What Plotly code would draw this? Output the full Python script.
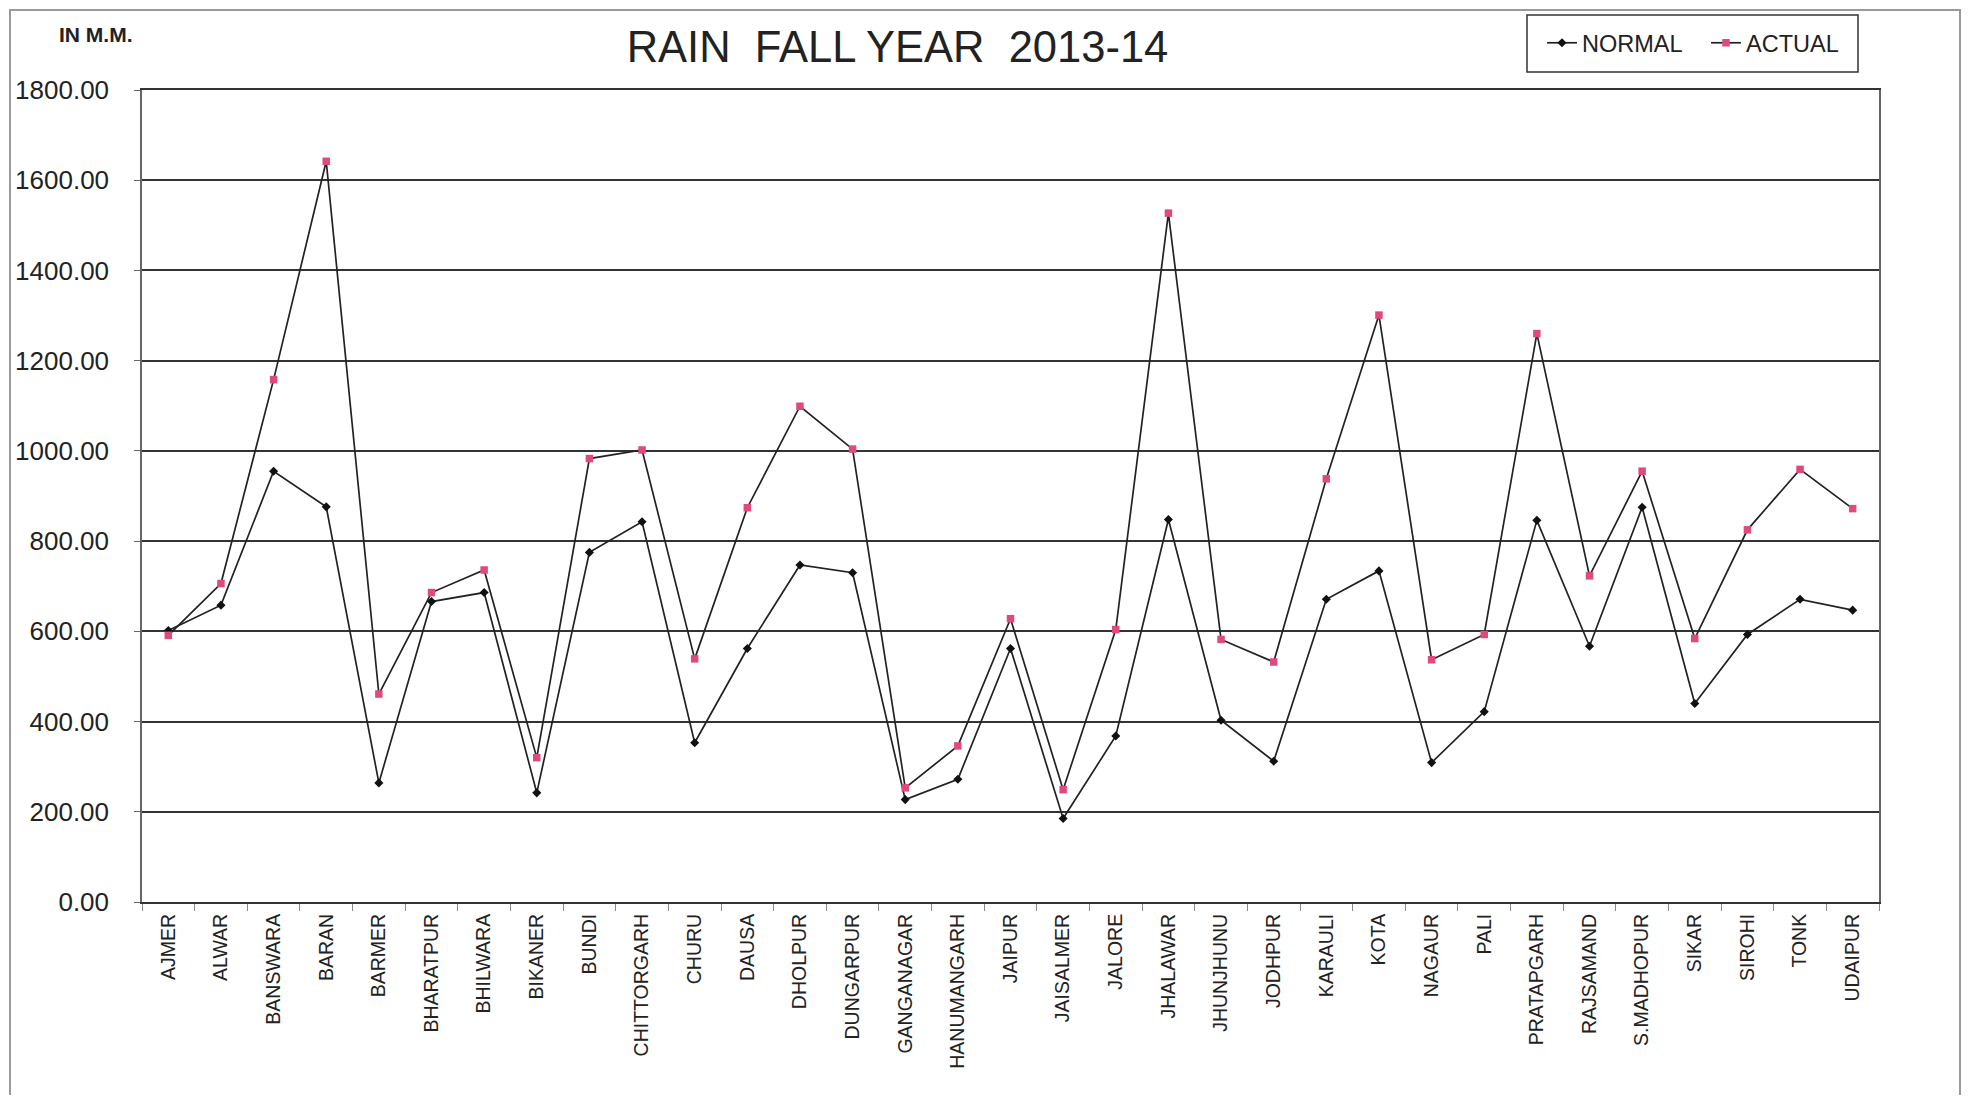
import plotly.graph_objects as go

districts = ["AJMER", "ALWAR", "BANSWARA", "BARAN", "BARMER", "BHARATPUR", "BHILWARA",
             "BIKANER", "BUNDI", "CHITTORGARH", "CHURU", "DAUSA", "DHOLPUR", "DUNGARPUR",
             "GANGANAGAR", "HANUMANGARH", "JAIPUR", "JAISALMER", "JALORE", "JHALAWAR",
             "JHUNJHUNU", "JODHPUR", "KARAULI", "KOTA", "NAGAUR", "PALI", "PRATAPGARH",
             "RAJSAMAND", "S.MADHOPUR", "SIKAR", "SIROHI", "TONK", "UDAIPUR"]

normal = [602, 658, 955, 876, 264, 666, 686, 242, 775, 843, 353, 562, 747, 730,
          227, 272, 562, 185, 368, 848, 403, 312, 671, 734, 309, 422, 846, 567,
          875, 440, 593, 671, 647]

actual = [591, 706, 1158, 1642, 461, 686, 736, 320, 983, 1002, 539, 874, 1099, 1004,
          253, 346, 628, 249, 604, 1527, 582, 532, 938, 1301, 537, 593, 1260, 723,
          955, 584, 825, 959, 872]

y_ticks = [0, 200, 400, 600, 800, 1000, 1200, 1400, 1600, 1800]

FONT = "Liberation Sans, Arial, sans-serif"

# page is offset by the body margin; work in figure coordinates
OFF = 8
W, H = 1978 - 2 * OFF, 1103 - 2 * OFF
L = 142 - OFF
T = 90 - OFF
Rx = 1879 - OFF
By = 902 - OFF
R, B = W - Rx, H - By
pw, ph = Rx - L, By - T


def px_x(page_x):
    return (page_x - OFF - L) / pw


def px_y(page_y):
    return 1 - (page_y - OFF - T) / ph


fig = go.Figure()
fig.add_trace(go.Scatter(
    x=districts, y=normal, name="NORMAL", mode="lines+markers",
    line=dict(color="#222222", width=1.7),
    marker=dict(symbol="diamond", size=7, color="#111111"),
))
fig.add_trace(go.Scatter(
    x=districts, y=actual, name="ACTUAL", mode="lines+markers",
    line=dict(color="#222222", width=1.7),
    marker=dict(symbol="square", size=7.5, color="#DE4A80"),
))

fig.update_layout(
    width=W, height=H,
    margin=dict(l=L, r=R, t=T, b=B, autoexpand=False),
    paper_bgcolor="white", plot_bgcolor="white",
    font=dict(family=FONT, color="#222222"),
    title=dict(
        text="RAIN\u00a0\u00a0FALL YEAR\u00a0\u00a02013-14",
        x=(897.5 - OFF) / W, xref="container", xanchor="center",
        y=1 - (46.7 - OFF) / H, yref="container", yanchor="middle",
        font=dict(size=43.5, family=FONT, color="#222222"),
    ),
    showlegend=True,
    legend=dict(
        orientation="h",
        x=px_x(1542), xanchor="left",
        y=px_y(43), yanchor="middle",
        borderwidth=0, bgcolor="rgba(0,0,0,0)",
        font=dict(size=23.5, family=FONT, color="#222222"),
        itemwidth=30, entrywidth=119, entrywidthmode="pixels",
    ),
    xaxis=dict(
        type="category", tickangle=-90, range=[-0.5, len(districts) - 0.5],
        tickfont=dict(size=19.5, family=FONT, color="#222222"),
        showgrid=False, showline=True, linecolor="#333333", linewidth=2,
        mirror=True,
        ticks="outside", tickson="boundaries", ticklen=7, tickcolor="#888888",
        ticklabelstandoff=2,
    ),
    yaxis=dict(
        range=[0, 1800], tickvals=y_ticks, tickformat=".2f",
        tickfont=dict(size=26, family=FONT, color="#222222"),
        showgrid=True, gridcolor="#333333", gridwidth=1.7,
        showline=True, linecolor="#666666", linewidth=1.5, mirror=True,
        ticks="outside", ticklen=6, tickcolor="#666666",
        ticklabelstandoff=20, zeroline=False,
    ),
)

# legend frame
fig.add_shape(
    type="rect", xref="paper", yref="paper",
    x0=px_x(1527), x1=px_x(1858), y0=px_y(72), y1=px_y(15),
    line=dict(color="#333333", width=1.5), fillcolor="white", layer="below",
)

fig.add_annotation(
    text="<b>IN M.M.</b>", x=px_x(96), y=px_y(34),
    xref="paper", yref="paper", showarrow=False,
    xanchor="center", yanchor="middle",
    font=dict(size=21, family=FONT, color="#222222"),
)

# outer chart frame
fig.add_shape(
    type="rect", xref="paper", yref="paper",
    x0=px_x(10), x1=px_x(1960), y0=px_y(1200), y1=px_y(10),
    line=dict(color="#9a9a9a", width=2), layer="below",
)

fig.write_html("out.html")
